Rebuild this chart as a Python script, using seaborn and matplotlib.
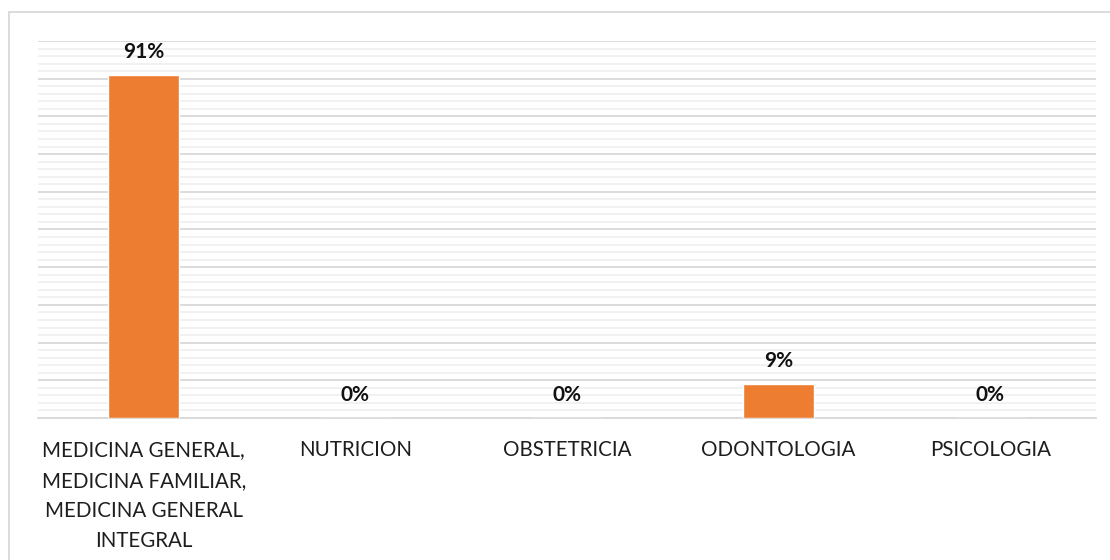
import matplotlib
matplotlib.use("Agg")
import matplotlib.pyplot as plt
from matplotlib.patches import Rectangle
from matplotlib.ticker import MultipleLocator
import seaborn as sns
import pandas as pd

categories = [
    "MEDICINA GENERAL,\nMEDICINA FAMILIAR,\nMEDICINA GENERAL\nINTEGRAL",
    "NUTRICION",
    "OBSTETRICIA",
    "ODONTOLOGIA",
    "PSICOLOGIA",
]
values = [0.91, 0.0, 0.0, 0.09, 0.0]
labels = ["91%", "0%", "0%", "9%", "0%"]

sns.set_theme(style="white")
plt.rcParams["font.family"] = ["Lato", "DejaVu Sans"]

df = pd.DataFrame({"cat": categories, "val": values})

fig = plt.figure(figsize=(11.1, 5.6), dpi=100)
ax = fig.add_axes([38 / 1110, 1 - 418 / 560, (1096 - 38) / 1110, (418 - 41) / 560])

sns.barplot(data=df, x="cat", y="val", color="#ED7D31", width=0.336,
            saturation=1, ax=ax, zorder=3)

ax.set_ylim(0, 1.0)
ax.yaxis.set_major_locator(MultipleLocator(0.1))
ax.yaxis.set_minor_locator(MultipleLocator(0.02))
ax.grid(which="major", axis="y", color="#d9d9d9", linewidth=1.3, zorder=0)
ax.grid(which="minor", axis="y", color="#f0f0f0", linewidth=1.3, zorder=0)
ax.set_axisbelow(True)
ax.tick_params(axis="y", which="both", left=False, labelleft=False)
ax.tick_params(axis="x", bottom=False, pad=10, labelsize=14.8, labelcolor="#1e1e1e")
for t in ax.get_xticklabels():
    t.set_linespacing(1.65)
    t.set_verticalalignment("top")
ax.set_xlabel("")
ax.set_ylabel("")
for s in ["top", "left", "right"]:
    ax.spines[s].set_visible(False)
ax.spines["bottom"].set_color("#d9d9d9")
ax.spines["bottom"].set_linewidth(1.3)

for i, (v, lab) in enumerate(zip(values, labels)):
    ax.annotate(lab, xy=(i, v), xytext=(0, 12.2), textcoords="offset points",
                ha="center", va="baseline", fontsize=15, fontweight="bold",
                color="#111111")

fig.add_artist(Rectangle((9 / 1110, -0.1), 1.2, 1 - 12 / 560 + 0.1,
                         transform=fig.transFigure, fill=False,
                         edgecolor="#d9d9d9", linewidth=1.3))

fig.savefig("out.png", dpi=100, facecolor="white")
